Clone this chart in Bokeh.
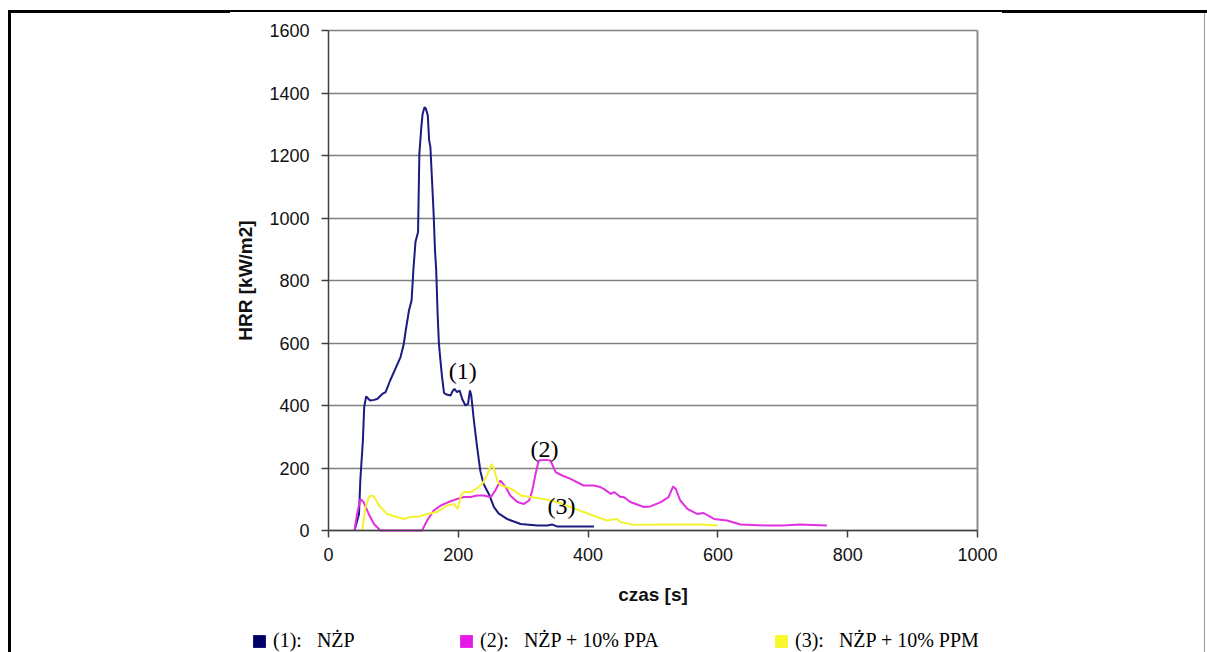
from bokeh.plotting import figure
from bokeh.models import Range1d, Label, Legend, LegendItem, Grid, FixedTicker, ColumnDataSource
from bokeh.embed import file_html
from bokeh.resources import INLINE

# ---------------- data ----------------
x_ticks = [0, 200, 400, 600, 800, 1000]
y_ticks = [0, 200, 400, 600, 800, 1000, 1200, 1400, 1600]

# (1) NŻP
t1 = [40, 44, 47, 49, 53, 55, 58, 64, 70, 75, 83, 88, 95, 103, 111, 116, 119, 124, 128,
      131, 134, 138, 140, 143, 145, 148, 150, 153, 155, 157, 160, 162, 164, 166, 168, 170,
      172, 175, 178, 182, 188, 191, 194, 198, 202, 206, 211, 215, 218, 220, 224, 229, 234,
      239, 247, 255, 262, 275, 296, 322, 337, 345, 352, 380, 409]
hrr1 = [0, 30, 53, 160, 288, 395, 429, 416, 418, 421, 437, 443, 480, 517, 555, 597, 640, 704, 736,
        840, 923, 955, 1205, 1290, 1333, 1355, 1350, 1328, 1250, 1227, 1100, 1013, 900, 832, 700, 603,
        555, 491, 440, 435, 432, 445, 453, 443, 448, 421, 400, 405, 448, 432, 352, 267, 190,
        149, 117, 75, 55, 37, 21, 16, 16, 19, 13, 13, 13]

# (2) NŻP + 10% PPA
t2 = [40, 44, 49, 54, 62, 70, 80, 144, 152, 162, 173, 185, 198, 209, 219, 229, 239, 250, 257,
      265, 273, 280, 291, 301, 309, 314, 319, 324, 334, 342, 350, 360, 373, 393, 408, 419, 424,
      435, 440, 450, 455, 465, 486, 496, 512, 524, 531, 535, 542, 553, 568, 578, 594, 614, 635,
      676, 700, 727, 768]
hrr2 = [0, 53, 101, 91, 53, 21, 0, 0, 32, 64, 80, 91, 101, 107, 107, 112, 112, 107, 128,
        160, 139, 112, 91, 85, 96, 128, 181, 224, 226, 224, 187, 176, 165, 144, 144, 139, 133,
        117, 123, 107, 107, 91, 75, 77, 91, 107, 141, 133, 96, 69, 53, 56, 37, 32, 19,
        16, 16, 19, 16]

# (3) NŻP + 10% PPM
t3 = [52, 57, 62, 65, 70, 78, 90, 106, 116, 126, 140, 152, 167, 183, 193, 199, 205, 209, 219,
      227, 237, 245, 251, 255, 260, 265, 275, 286, 296, 311, 332, 352, 373, 393, 414, 429, 444,
      450, 470, 522, 573, 600]
hrr3 = [0, 75, 105, 112, 109, 80, 53, 43, 37, 43, 45, 53, 59, 80, 85, 69, 117, 123, 123,
        133, 149, 181, 213, 197, 160, 144, 139, 128, 112, 107, 101, 91, 75, 59, 43, 32, 37,
        27, 18, 19, 19, 16]

series_t = [t1, t2, t3]
series_v = [hrr1, hrr2, hrr3]
series_labels = ["(1):\u00a0\u00a0\u00a0NŻP",
                 "(2):\u00a0\u00a0\u00a0NŻP + 10% PPA",
                 "(3):\u00a0\u00a0\u00a0NŻP + 10% PPM"]
curve_tags = ["(1)", "(2)", "(3)"]
tag_x = [207, 333, 359]
tag_y = [512, 261, 80]

line_colors = ["#1a1a80", "#e030e0", "#f2f230"]
swatch_colors = ["#000066", "#e619e6", "#f7f72a"]

# ---------------- layout (pixels) ----------------
W, H = 1207, 652
FX0, FX1 = 328, 977      # plot area left/right (px from left)
FY0, FY1 = 30, 530       # plot area top/bottom (px from top)
X0, X1 = x_ticks[0], x_ticks[-1]
Y0, Y1 = y_ticks[0], y_ticks[-1]
sx = (FX1 - FX0) / (X1 - X0)
sy = (FY1 - FY0) / (Y1 - Y0)
x_range = Range1d(X0 - FX0 / sx, X1 + (W - FX1) / sx)
y_range = Range1d(Y0 - (H - FY1) / sy, Y1 + FY0 / sy)

p = figure(width=W, height=H, output_backend="svg", toolbar_location=None,
           x_range=x_range, y_range=y_range,
           min_border=0, min_border_left=0, min_border_right=0,
           min_border_top=0, min_border_bottom=0,
           background_fill_alpha=0, border_fill_alpha=0, outline_line_color=None)

# page frame lines of the source document
p.styles = {
    "background-color": "white",
    "background-image": ", ".join(["linear-gradient(#000,#000)"] * 4 + ["linear-gradient(#9a9a9a,#9a9a9a)"]),
    "background-size": "3px 642px, 222px 3px, 772px 2px, 205px 3px, 1px 642px",
    "background-position": "8px 10px, 8px 10px, 230px 10px, 1002px 10px, 1204px 10px",
    "background-repeat": "no-repeat",
}

for ax, ticks, loc, bnds in ((p.xaxis, x_ticks, Y0, (X0, X1)), (p.yaxis, y_ticks, X0, (Y0, Y1))):
    ax.ticker = ticks
    ax.fixed_location = loc
    ax.bounds = bnds
    ax.major_label_text_font = "Liberation Sans"
    ax.major_label_text_font_size = "18px"
    ax.major_label_text_color = "#111111"
    ax.major_tick_in = 0
    ax.major_tick_out = 7
    ax.minor_tick_out = 0
    ax.minor_tick_in = 0
    ax.axis_line_color = "#404040"
    ax.axis_line_width = 1.5
    ax.major_tick_line_color = "#404040"
    ax.major_tick_line_width = 1.5
    ax.axis_label_text_font = "Liberation Sans"
    ax.axis_label_text_font_style = "bold"
    ax.axis_label_text_font_size = "19px"
    ax.axis_label_text_color = "#111111"

p.xaxis.axis_label = "czas [s]"
p.yaxis.axis_label = "HRR [kW/m2]"
p.xaxis.major_label_standoff = 10
p.yaxis.major_label_standoff = 12
p.xaxis.axis_label_standoff = 20
p.yaxis.axis_label_standoff = 10

p.xgrid.visible = False
p.ygrid.ticker = y_ticks
p.ygrid.cross_bounds = (X0, X1)
p.ygrid.grid_line_color = "#808080"
p.ygrid.grid_line_width = 1.5
# right-hand border of the plot area
p.add_layout(Grid(dimension=0, ticker=FixedTicker(ticks=[X1]), cross_bounds=(Y0, Y1),
                  grid_line_color="#8c8c8c", grid_line_width=2))

for t, v, c in zip(series_t, series_v, line_colors):
    p.line(t, v, line_color=c, line_width=2)

for txt, x, y in zip(curve_tags, tag_x, tag_y):
    p.add_layout(Label(x=x, y=y, text=txt, text_font="Liberation Serif",
                       text_font_size="24px", text_align="center", text_baseline="middle",
                       text_color="black"))

# ---------------- legend (square swatches below the axis) ----------------
leg_x = [251, 458, 773]
for i in range(3):
    src = ColumnDataSource(dict(left=[min(series_t[i])], right=[max(series_t[i])],
                                bottom=[0], top=[max(series_v[i])]))
    r = p.quad(left="left", right="right", bottom="bottom", top="top", source=src,
               fill_color=swatch_colors[i], line_color=None, visible=False)
    lg = Legend(items=[LegendItem(label=series_labels[i], renderers=[r])],
                location=(leg_x[i], 0), orientation="horizontal",
                glyph_width=16, glyph_height=16, label_standoff=6, spacing=0,
                label_text_font="Liberation Serif", label_text_font_size="20px",
                label_text_color="black", padding=0, margin=0,
                border_line_color=None, background_fill_alpha=0,
                inactive_fill_alpha=0, click_policy="none")
    p.add_layout(lg)

open("out.html", "w").write(file_html(p, INLINE))
